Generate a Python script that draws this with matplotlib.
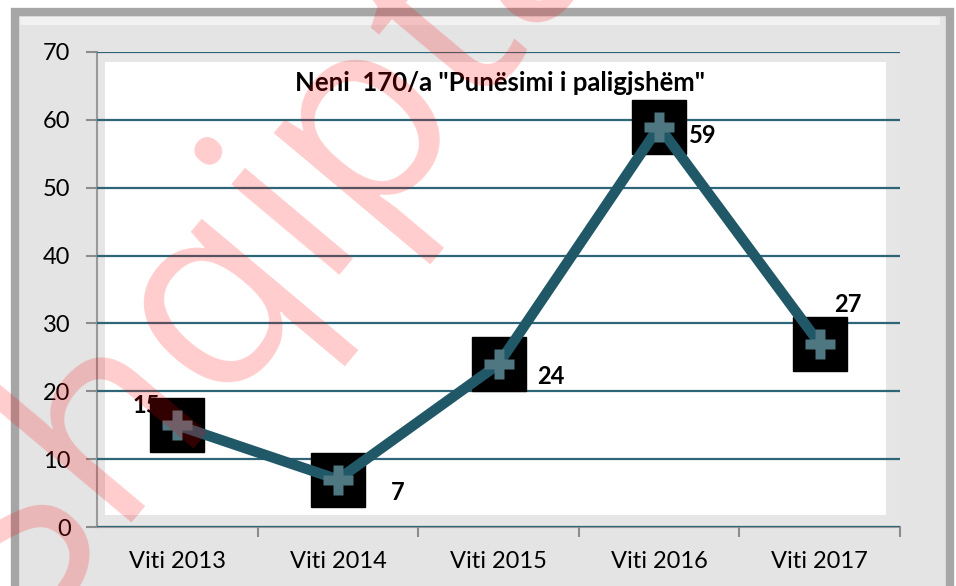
import matplotlib.pyplot as plt
from matplotlib.patches import Rectangle

# Data
categories = ['Viti 2013', 'Viti 2014', 'Viti 2015', 'Viti 2016', 'Viti 2017']
values = [15, 7, 24, 59, 27]
yticks = [0, 10, 20, 30, 40, 50, 60, 70]
title = 'Neni  170/a "Punësimi i paligjshëm"'

line_col = '#215868'
grid_col = '#2e6677'

plt.rcParams['font.family'] = ['Lato', 'DejaVu Sans']

fig = plt.figure(figsize=(9.56, 5.86), dpi=100)
fig.patch.set_facecolor('white')

# outer chart frame
fig.patches.append(Rectangle((15 / 956, -0.05), 935 / 956, 1.05 - 12 / 586, transform=fig.transFigure,
                             facecolor='#e4e4e4', edgecolor='#a6a6a6', linewidth=6, zorder=-2))
fig.patches.append(Rectangle((20 / 956, 1 - 25 / 586), 920 / 956, 8 / 586, transform=fig.transFigure,
                             facecolor='#f1f1f1', edgecolor='none', zorder=-1))

ax = fig.add_axes([97 / 956, 59 / 586, 803 / 956, 475 / 586])
ax.set_facecolor('#e6e6e6')

x = list(range(len(categories)))

# white inner plot area
ax.add_patch(Rectangle((0.01, 0.025), 0.972, 0.955, transform=ax.transAxes,
                       facecolor='white', edgecolor='none', zorder=0.5))

ax.set_xlim(-0.5, len(categories) - 0.5)
ax.set_ylim(0, 70)
ax.set_yticks(yticks)
ax.yaxis.grid(True, color=grid_col, linewidth=1.6, zorder=1)
ax.set_axisbelow(False)

ax.set_xticks(x)
ax.set_xticklabels(categories, fontsize=17)
ax.set_xticks([i + 0.5 for i in range(len(categories))], minor=True)
ax.tick_params(axis='x', which='major', length=0, pad=17)
ax.tick_params(axis='x', which='minor', length=7, color='#8c8c8c', width=1.5)
ax.tick_params(axis='y', length=8, color='#8c8c8c', width=1.5, labelsize=17, pad=11)

for s in ['top', 'right']:
    ax.spines[s].set_visible(False)
for s in ['left', 'bottom']:
    ax.spines[s].set_color('#999999')
    ax.spines[s].set_linewidth(1.5)

# markers and line
ax.plot(x, values, linestyle='none', marker='s', markersize=39, color='black', zorder=3)
ax.plot(x, values, color=line_col, linewidth=7.5, zorder=4, solid_capstyle='round')
ax.plot(x, values, linestyle='none', marker='P', markersize=21, color='#4f7781',
        markeredgecolor='none', zorder=5)

# data labels
offsets = [(-31, 20), (60, -13), (52, -12), (44, -9), (28, 39)]
for xi, v, (dx, dy) in zip(x, values, offsets):
    ax.annotate(str(v), (xi, v), xytext=(dx, dy), textcoords='offset pixels',
                ha='center', va='center', fontsize=17, fontweight='bold', zorder=6)

ax.text(0.502, 0.935, title, transform=ax.transAxes, ha='center', va='center',
        fontsize=18.5, fontweight='bold', zorder=6)

# watermark
fig.text(20 / 956, -54 / 586, 'Shqiptarja', fontsize=190, rotation=50, rotation_mode='anchor',
         color='red', alpha=0.2, ha='left', va='baseline', family='Open Sans', zorder=10)

fig.savefig('out.png', dpi=100, facecolor=fig.get_facecolor())
